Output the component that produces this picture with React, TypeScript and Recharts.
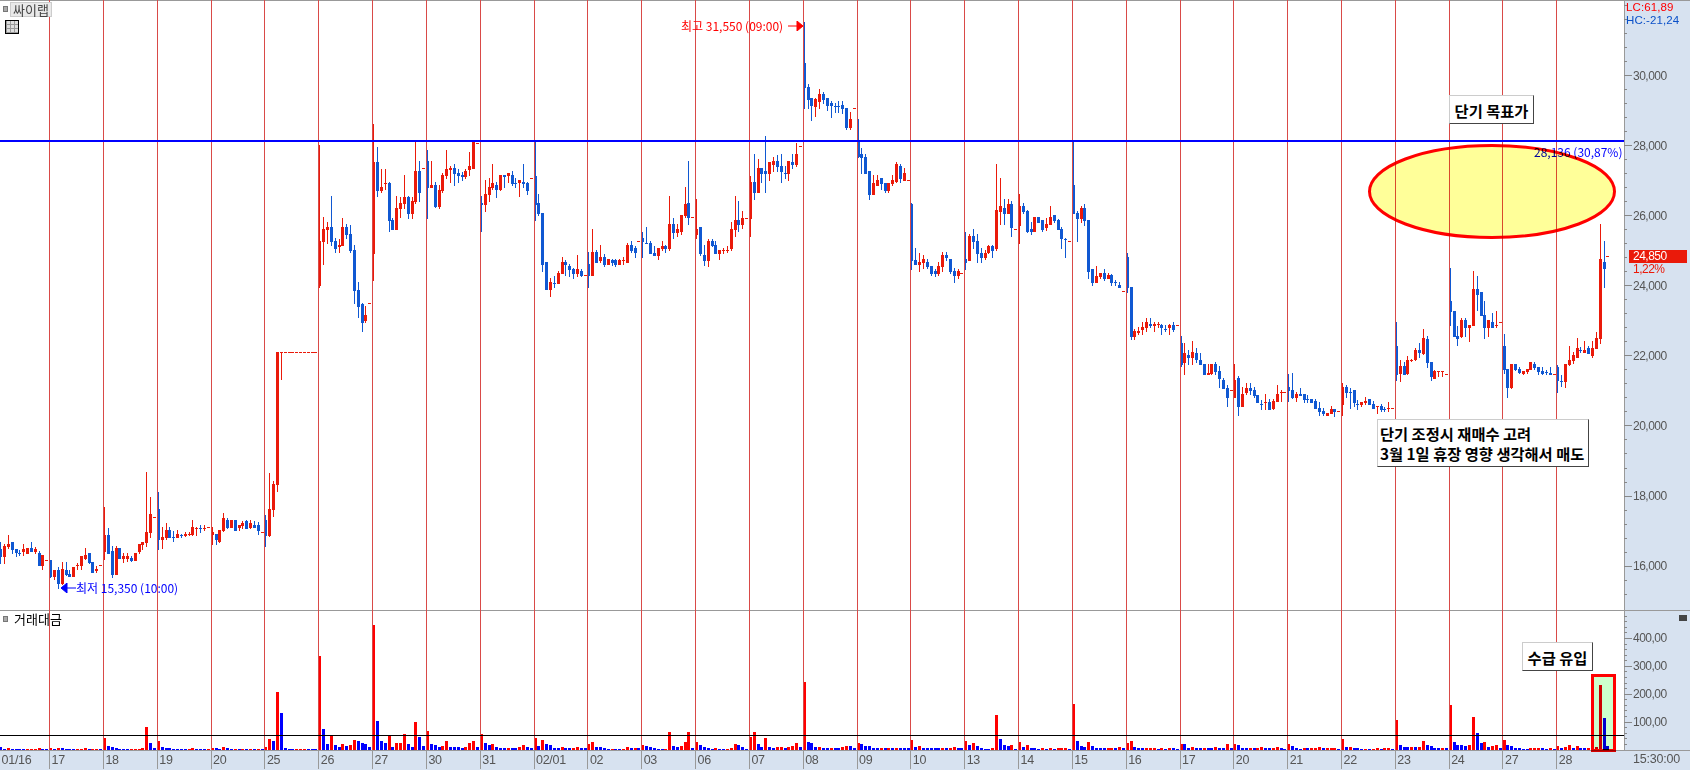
import { Bar, Cell, ComposedChart, ReferenceLine, XAxis, YAxis } from 'recharts';

// one row per trading day, 14 bars a day (first day is cut off at the left edge)
const opens = [
  16490,16270,16550,16690,16490,16360,16390,16350,16520,16410,16370,16000,16170,
  16170,15680,15890,15490,15890,15770,15700,16000,16010,16200,16370,16110,15860,16030,
  16400,16890,16430,15740,16510,16200,16200,16230,16140,16390,16600,16670,16940,17410,
  17630,16740,16800,17030,16830,16800,16880,16860,16890,16890,17080,17100,17080,17110,
  16890,16910,16690,17000,17310,17090,17310,17090,17140,17290,17090,17170,17170,16970,
  17310,16860,17600,18310,22100,22100,22100,22100,22100,22100,22100,22100,22100,22100,
  24000,25260,25600,25690,25290,25110,25140,25690,25490,25030,23890,23490,23000,23510,
  24910,27540,26710,26920,26940,25890,25600,26200,26340,26540,26060,26400,27290,27360,
  27570,26800,26890,26260,26710,27140,27310,27370,27230,27170,27110,27310,27340,28080,
  26370,26310,26600,26800,26890,26740,27170,27140,27170,26940,26940,26970,26940,27080,
  27140,26370,26090,24690,23890,24090,24060,24340,24690,24570,24490,24340,24430,24300,
  24630,24290,24970,24710,24830,24600,24740,24740,24600,24720,24660,25170,25090,25280,
  25370,25220,25230,24940,24860,25060,25140,25060,25770,25510,25540,26000,26370,25960,
  25460,25690,24880,24710,25290,25170,24910,25010,25010,25060,25600,25890,25740,25930,
  25910,26970,26660,27370,27290,27200,27460,27570,27430,27230,27200,27540,27460,28000,
  30370,29690,29370,29110,29260,29480,29370,29230,29140,29140,29170,29080,28510,29080,
  28110,27770,27690,27290,26600,26860,27090,26940,26710,26910,26970,27430,27000,27030,
  26340,24740,24600,24660,24690,24570,24430,24340,24540,24890,24770,24430,24290,24360,
  24770,24710,25430,25290,24940,24800,24940,25140,25060,26110,26230,26060,26340,25620,
  25710,26290,26140,25630,25540,25970,25890,25660,25740,26030,25890,25630,25340,25280,
  26890,26090,25910,26230,25890,24490,24090,24260,24370,24200,24310,24110,24030,23870,
  24830,23970,22540,22660,22740,22800,22910,22860,22880,22880,22770,22800,22880,22880,
  22370,21800,22030,21940,22080,21880,21770,21460,21480,21770,21570,21310,21090,21020,
  20800,21370,20540,20940,21090,21030,20890,20630,20660,20690,20490,20690,20950,20960,
  21110,21030,20800,20910,20910,20770,20770,20710,20510,20430,20290,20340,20490,20430,
  20600,21110,20970,21030,20630,20600,20660,20770,20630,20550,20570,20490,20490,20500,
  22290,21490,21710,21490,21860,21890,22170,22060,22490,21830,21340,21550,21550,21480,
  23570,23290,22570,22540,23030,22800,22860,23910,23830,23170,22800,22970,22860,22960,
  22290,21630,21090,21770,21630,21490,21540,21600,21770,21690,21570,21540,21510,21480,
  21690,21290,21260,21740,21860,21940,22170,22090,22230,22000,22200,22490,24680,24850,
];
const highs = [
  16680,16630,16890,16690,16490,16460,16630,16520,16690,16550,16430,16310,16170,
  16170,15890,15980,16110,16110,15900,15970,16080,16290,16510,16370,16110,16000,16030,
  17700,17090,16570,16570,16510,16370,16360,16290,16370,16630,16690,18690,17970,17410,
  18110,17110,17230,17110,17000,17030,16910,16970,16970,17310,17110,17170,17170,17110,
  17110,16910,17030,17510,17370,17310,17310,17170,17290,17310,17310,17290,17260,16970,
  17460,18660,18430,22100,22100,22100,22100,22100,22100,22100,22100,22100,22100,22100,
  28030,25970,25830,26570,25370,25340,25940,25770,25740,25170,24110,23510,23430,23510,
  28630,27970,27340,27340,26970,25940,26570,26540,27170,26570,26540,28110,27570,27360,
  27890,27570,26970,26890,27230,27890,27430,27480,27340,27260,27340,27830,28110,28080,
  26570,27030,27090,27480,26970,27170,27170,27230,27290,27080,27030,27480,26970,27080,
  28170,26630,26090,24690,24230,24290,24430,24830,24740,24630,24510,24890,24490,24300,
  24970,25630,25030,25170,24910,24770,24770,24770,24770,24830,25230,25290,25140,25280,
  25540,25690,25290,25140,25090,25290,25170,26570,25940,25770,26030,26830,27570,25960,
  26480,25690,25170,25340,25340,25290,25030,25090,25140,25830,26570,26430,26140,25930,
  27140,27770,27630,27370,28290,27540,27690,27740,27770,27430,27570,27770,28090,28000,
  31540,29770,29370,29370,29630,29540,29370,29290,29230,29290,29290,29080,28970,29080,
  28770,27940,27770,27290,27170,27170,27090,26940,26940,27170,27540,27490,27370,27030,
  26370,25090,24940,24890,24770,24570,24490,24690,24970,24970,24770,24510,24490,24360,
  25540,25490,25630,25490,25090,25030,25170,25170,27490,27090,26490,26490,26430,25620,
  26630,26370,26170,25830,25970,25970,25890,25940,26290,26030,25910,25690,25370,25280,
  28170,26140,26290,26340,25890,24490,24570,24370,24490,24370,24340,24170,24110,23870,
  24940,23970,22770,22830,22970,23090,23090,22970,22970,22910,22880,22910,22970,22880,
  22570,22370,22170,22430,22230,22080,21770,21770,21770,21830,21710,21370,21170,21020,
  21770,21430,21110,21230,21230,21110,20890,20740,20910,20770,20770,21170,21030,20960,
  21490,21510,20970,21090,20910,20890,20770,20770,20690,20510,20370,20570,20490,20430,
  21230,21170,21090,21030,20740,20690,20830,20770,20710,20570,20630,20540,20690,20500,
  22970,21890,21830,22000,21910,22230,22370,22770,22570,21830,21600,21570,21570,21480,
  24510,23290,22860,23090,23090,22890,24430,24290,23830,23570,23030,23230,23290,22960,
  22630,21630,21770,21770,21690,21570,21630,21830,21830,21690,21690,21600,21690,21480,
  21740,21460,21770,22290,22110,22510,22260,22430,22290,22430,22690,25770,25290,24850,
];
const lows = [
  16060,16060,16480,16340,16270,16300,16290,16340,16400,16340,16000,15890,16170,
  15650,15600,15350,15460,15700,15700,15700,15890,15900,16170,16060,15810,15800,16030,
  16200,16340,15670,15740,16200,16090,16100,16110,16140,16340,16460,16550,16800,17410,
  16460,16490,16740,16800,16690,16800,16800,16830,16860,16860,16860,16940,17010,17110,
  16600,16600,16660,16970,17060,17090,17000,17000,17060,17060,17060,17090,16890,16970,
  16540,16830,17400,18090,21310,22100,22100,22100,22100,22100,22100,22100,22100,22100,
  23950,24600,25200,25140,24940,24940,25140,25340,24940,23490,23090,22690,22940,23510,
  24140,26540,26660,26740,25540,25600,25600,25940,26200,25910,25910,26340,26400,27360,
  25910,26800,26230,26200,26660,27060,26940,26860,26940,27000,27060,27140,27340,28080,
  25540,26110,26400,26740,26510,26710,26800,26940,26860,26800,26540,26800,26600,27080,
  25860,26000,24400,23890,23690,23940,24060,24340,24290,24260,24200,24260,24260,24300,
  23940,24290,24660,24660,24540,24600,24570,24540,24600,24600,24660,24940,24800,25280,
  24800,25200,24910,24860,24740,25000,24940,25000,25340,25400,25460,25940,25740,25960,
  25340,24860,24570,24540,25110,24910,24740,24910,24940,25000,25400,25540,25630,25930,
  25400,26460,26660,26940,26660,27000,27260,27260,26940,27060,27000,27340,27400,28000,
  29060,29060,28710,28830,29060,29200,29000,28800,28940,28940,28910,28460,28460,29080,
  27660,27200,27200,26460,26600,26860,26740,26660,26660,26860,26940,26940,27000,27030,
  24460,24600,24400,24490,24490,24290,24260,24290,24400,24710,24340,24090,24200,24360,
  24460,24710,25060,24660,24660,24740,24910,24800,25000,25740,25740,26060,25400,25620,
  25200,26060,25510,25460,25540,25800,25540,25570,25740,25800,25600,25060,24800,25280,
  26060,25260,25800,25710,24200,24000,24090,24200,24140,24200,24000,24000,23940,23870,
  23800,22460,22460,22600,22600,22690,22800,22690,22800,22600,22690,22600,22690,22880,
  21690,21460,21740,21740,21800,21740,21460,21460,21460,21460,21080,21060,20540,21020,
  20800,20290,20540,20890,20890,20800,20660,20460,20460,20460,20460,20690,20690,20960,
  20690,20770,20690,20860,20660,20660,20660,20490,20290,20290,20290,20340,20260,20430,
  20290,20800,20490,20540,20460,20540,20600,20600,20490,20340,20400,20400,20400,20500,
  21290,21260,21460,21460,21830,21860,21940,22030,21660,21290,21340,21400,21400,21480,
  22860,22540,22290,22510,22540,22400,22860,23290,23140,22490,22540,22800,22800,22960,
  21490,20800,21060,21570,21490,21460,21490,21600,21600,21460,21460,21460,21460,21480,
  20940,21110,21090,21710,21770,21940,22090,22090,22060,21940,22200,22340,23940,24850,
];
const closes = [
  16270,16570,16630,16460,16360,16340,16490,16520,16400,16490,16000,16310,16170,
  15680,15890,15490,15910,15740,15700,15970,16030,16290,16310,16090,15810,15910,16030,
  16890,16340,15740,16510,16200,16290,16290,16140,16370,16630,16690,16970,17490,17410,
  16740,16830,17030,16800,16810,16910,16850,16910,16910,17110,17100,17080,17100,17110,
  16970,16740,17030,17370,17090,17310,17000,17170,17230,17060,17230,17090,17000,16970,
  16860,17630,18340,22100,22100,22100,22100,22100,22100,22100,22100,22100,22100,22100,
  25290,25630,25690,25260,25060,25170,25690,25460,25000,23860,23400,22940,23170,23510,
  27540,26710,26830,26940,25860,25600,26230,26370,26540,26060,26430,27290,26660,27360,
  26800,26890,26260,26740,27170,27340,27370,27200,27140,27110,27290,27430,28110,28080,
  26310,26630,26830,26940,26740,27170,27110,27230,26910,26920,27030,26910,26710,27080,
  26310,26060,24600,23890,24110,24070,24370,24690,24600,24460,24340,24490,24290,24300,
  24290,24970,24660,24830,24600,24770,24660,24600,24740,24740,25170,25000,24940,25280,
  25260,25200,24910,24860,25090,25140,25060,25770,25510,25630,26030,26340,25940,25960,
  25630,24910,24710,25290,25140,24910,25030,25030,25030,25630,25890,25740,25940,25930,
  26970,26660,27370,27200,27200,27540,27570,27400,27260,27210,27570,27460,27770,28000,
  29660,29310,29140,29340,29480,29310,29140,29140,29120,29120,29060,28510,28770,29080,
  27690,27660,27200,26600,26940,27030,26910,26710,26940,27030,27490,27060,27230,27030,
  24710,24600,24690,24770,24540,24340,24340,24570,24890,24800,24400,24290,24430,24360,
  24660,25430,25260,24910,24800,24940,25140,25000,26170,26290,26060,26340,25660,25620,
  26290,26110,25540,25540,25970,25800,25600,25770,25970,25860,25600,25340,25320,25280,
  26060,25910,26230,25860,24400,24090,24290,24370,24200,24310,24090,24080,23940,23870,
  23940,22540,22710,22710,22830,22970,22860,22910,22910,22800,22740,22880,22740,22880,
  21740,22080,21940,22110,21880,21740,21460,21510,21770,21540,21340,21060,20800,21020,
  21310,20540,20910,21090,21000,20860,20660,20610,20690,20460,20710,20910,20970,20960,
  21000,20800,20910,20860,20740,20740,20660,20490,20400,20340,20370,20490,20400,20430,
  21110,20940,20950,20660,20610,20690,20710,20600,20490,20570,20460,20470,20510,20500,
  21460,21710,21460,21890,21890,22170,22090,22510,21800,21400,21570,21570,21570,21480,
  23260,22540,22490,23030,22800,22890,23910,23740,23140,22800,23030,22800,22880,22960,
  21600,21090,21770,21600,21510,21570,21630,21830,21660,21540,21490,21520,21470,21480,
  21290,21270,21770,21890,22030,22230,22140,22170,22060,22230,22510,24770,24480,24850,
];
const turnover = [
  11,4,7,4,4,4,4,4,4,4,7,4,4,
  7,4,7,7,4,4,4,4,4,7,4,4,4,4,
  43,14,11,7,4,4,4,4,4,4,7,83,25,7,
  32,11,7,7,4,4,4,4,4,7,4,4,4,4,
  7,7,4,11,7,4,4,4,4,4,4,4,4,4,
  11,39,32,208,133,7,4,4,4,4,4,4,4,4,
  337,75,22,54,18,11,22,14,18,36,32,25,22,11,
  448,104,32,25,54,11,25,25,57,22,11,100,47,14,
  68,22,18,11,14,32,11,11,11,7,11,25,32,11,
  57,25,18,22,11,7,7,7,7,7,11,18,11,7,
  43,14,36,22,18,7,7,11,7,7,7,11,7,7,
  22,29,11,11,7,4,4,4,4,4,11,7,7,7,
  18,14,11,7,4,4,4,65,14,11,14,29,65,7,
  29,18,11,7,4,7,4,4,4,7,22,18,11,4,
  47,65,22,11,43,11,7,11,11,7,11,14,25,11,
  244,29,25,11,11,7,7,7,7,7,11,14,14,7,
  25,22,14,14,7,7,7,7,7,7,7,7,7,7,
  36,11,14,7,7,7,7,7,7,7,7,11,7,7,
  32,18,25,14,7,4,4,7,126,39,18,14,18,4,
  29,11,18,7,7,4,7,4,7,4,7,7,7,4,
  165,32,14,11,29,14,7,7,7,7,7,7,11,7,
  25,32,11,7,7,7,7,7,4,7,4,7,7,4,
  22,22,7,11,7,7,7,7,7,11,7,7,22,7,
  22,18,7,7,7,7,7,11,7,7,7,11,7,4,
  22,14,7,4,7,7,7,7,11,7,7,7,7,4,
  39,11,11,7,7,4,4,4,4,7,4,7,7,4,
  108,18,11,11,11,11,11,32,18,14,7,7,7,7,
  161,29,18,18,14,18,118,61,25,29,11,14,18,7,
  36,18,14,7,7,4,4,7,7,7,7,4,7,4,
  14,7,11,18,7,14,7,7,7,7,11,233,115,14,
];
// r = turnover up on the previous bar, b = down
const turnoverDirs = [
  'bbrbbbbrrrrbb','rbrbbbbrrrbrrb','rbbbbbbrrrrrbb','rbbbbbbbrrbbbr','rbbrbbrbrbrbrb',
  'rrbrbbbbrrrbbb','rbbrbbrbrrbbbb','rbbbrbrrrbbrbb','rbbbrrbbbbrrrb','rbbrbbbrbbrrbb',
  'rbrbbbbrbbrrbb','rrbbbbrbbrrbrb','rbbbbbrrbbrrrb','rbbbbrbbrrrbbb','rrbbrbbrrbrrrb',
  'rbbbrbbrbbrrbb','rbbbbbrbrbrbbb','rbrbbbbbrbrrbb','rbrbbbbrrbbbrb','rbrbbbrbrbrrrb',
  'rbbbrbbbbrrbrb','rrbbbrrrbrbrbb','rbbrbbrbbrbbrb','rbbbrbrrbbrrbb','rbbbrbrrrbrrrb',
  'rbrbbbrbrrbrrb','rbbbrbrrbbbbrb','rbbbbrrbbrbrrb','rbbbbbbrrrbbrb','rbrrbrbbrrrrbb',
].join('');

const dayLabels = ['01/16','17','18','19','20','25','26','27','30','31','02/01','02','03','06','07','08','09','10','13','14','15','16','17','20','21','22','23','24','27','28'];
const dayStarts = [0,13,27,41,55,69,83,97,111,125,139,153,167,181,195,209,223,237,251,265,279,293,307,321,335,349,363,377,391,405];

const priceTicks = [15200,15600,16000,16400,16800,17200,17600,18000,18400,18800,19200,19600,20000,20400,20800,21200,21600,22000,22400,22800,23200,23600,24000,24400,24800,25200,25600,26000,26400,26800,27200,27600,28000,28400,28800,29200,29600,30000,30400,30800,31200,31600,32000];
const priceLabels = [16000,18000,20000,22000,24000,26000,28000,30000];
const turnoverTicks = [20,40,60,80,100,120,140,160,180,200,220,240,260,280,300,320,340,360,380,400,420,440,460,480];
const turnoverLabels = [100,200,300,400];
const targetPrice = 28136;
const turnoverAverage = 53;

const rows = closes.map((close, i) => ({
  i,
  range: [lows[i], highs[i]],
  open: opens[i],
  high: highs[i],
  low: lows[i],
  close,
  turnover: turnover[i],
  rising: turnoverDirs[i] === 'r',
}));

const X_DOMAIN: [number, number] = [-0.16, 422.21];
const RED = '#ea1a0a';
const BLUE = '#1058d2';
const GRID = '#d94a48';
const AXIS_BG = '#d7e2f0';
const AXIS_LINE = '#999';
const LABEL = '#555';
const FONT = '"Liberation Sans", sans-serif';
const KR = '"Noto Sans CJK KR", sans-serif';

function Candle(props: any) {
  const { x, y, width, height, payload } = props;
  const { open, close, high, low } = payload;
  const up = close >= open;
  const color = up ? RED : BLUE;
  const unit = high > low ? height / (high - low) : 0;
  const cx = Math.round(x + width / 2);
  const top = y + (high - Math.max(open, close)) * unit;
  const bottom = y + (high - Math.min(open, close)) * unit;
  const bodyY = Math.round(top);
  const bodyH = Math.max(1, Math.round(bottom) - bodyY);
  return (
    <g shapeRendering="crispEdges">
      {height > 1 && <rect x={cx} y={Math.round(y)} width={1} height={Math.max(1, Math.round(height))} fill={color} />}
      <rect x={cx - 1} y={bodyY} width={3} height={bodyH} fill={color} />
    </g>
  );
}

function TurnoverBar(props: any) {
  const { x, y, width, height, payload } = props;
  return (
    <rect
      x={Math.round(x + width / 2) - 1}
      y={Math.round(y)}
      width={3}
      height={Math.max(1, Math.round(height))}
      fill={payload.rising ? '#ff0000' : '#0000ff'}
      shapeRendering="crispEdges"
    />
  );
}

function PriceTick(props: any) {
  const { x, y, payload } = props;
  const major = priceLabels.includes(payload.value);
  return (
    <g shapeRendering="crispEdges">
      <line x1={x} x2={x + (major ? 8 : 3)} y1={y} y2={y} stroke="#888" />
      {major && (
        <text x={x + 9} y={y + 4} fontSize={12} fontFamily={FONT} fill={LABEL} letterSpacing={-0.5}>
          {payload.value.toLocaleString('en-US')}
        </text>
      )}
    </g>
  );
}

function TurnoverTick(props: any) {
  const { x, y, payload } = props;
  const major = turnoverLabels.includes(payload.value);
  return (
    <g shapeRendering="crispEdges">
      <line x1={x} x2={x + (major ? 8 : 3)} y1={y} y2={y} stroke="#888" />
      {major && (
        <text x={x + 9} y={y + 4} fontSize={12} fontFamily={FONT} fill={LABEL} letterSpacing={-0.5}>
          {payload.value},00
        </text>
      )}
    </g>
  );
}

function DayTick(props: any) {
  const { x, y, payload } = props;
  const idx = dayStarts.indexOf(payload.value);
  return (
    <g>
      {idx > 0 && <line x1={x - 1} x2={x - 1} y1={y} y2={y + 19} stroke="#999" shapeRendering="crispEdges" />}
      <text x={x + 1} y={y + 14} fontSize={12.5} fontFamily={FONT} fill={LABEL} letterSpacing={-0.3}>
        {dayLabels[idx]}
      </text>
    </g>
  );
}

function Note({ left, top, width, height, lines, align = 'center' }: { left: number; top: number; width: number; height: number; lines: string[]; align?: string }) {
  return (
    <div
      style={{
        position: 'absolute', left, top, width, height, boxSizing: 'border-box', background: '#fff',
        borderTop: '1px solid #ccc', borderLeft: '1px solid #ccc',
        borderRight: '1px solid #444', borderBottom: '1px solid #444',
        display: 'flex', flexDirection: 'column', justifyContent: 'center', alignItems: align, paddingLeft: align === 'center' ? 0 : 2,
        fontFamily: KR, fontWeight: 700, fontSize: 15.3, lineHeight: '20px', color: '#000', whiteSpace: 'nowrap',
      }}
    >
      {lines.map(l => <span key={l}>{l}</span>)}
    </div>
  );
}

function Caption({ left, top, color, size = 12, children }: any) {
  return (
    <div style={{ position: 'absolute', left, top, color, fontSize: size, lineHeight: '12px', fontFamily: KR, whiteSpace: 'nowrap' }}>
      {children}
    </div>
  );
}

export default function App() {
  return (
    <div style={{ position: 'absolute', left: 0, top: 0, width: 1690, height: 770, overflow: 'hidden', background: '#fff' }}>
      {/* axis panels sit under the transparent charts */}
      <div style={{ position: 'absolute', left: 1624, top: 0, width: 66, height: 770, background: AXIS_BG, borderLeft: `1px solid ${AXIS_LINE}`, boxSizing: 'border-box' }} />
      <div style={{ position: 'absolute', left: 0, top: 750, width: 1690, height: 19, background: AXIS_BG, borderTop: `1px solid ${AXIS_LINE}`, borderBottom: `1px solid ${AXIS_LINE}`, boxSizing: 'content-box' }} />
      <div style={{ position: 'absolute', left: 0, top: 0, width: 1690, height: 1, background: AXIS_LINE }} />
      <div style={{ position: 'absolute', left: 0, top: 610, width: 1690, height: 1, background: AXIS_LINE }} />

      <div style={{ position: 'absolute', left: 0, top: 0 }}>
        <ComposedChart width={1690} height={610} data={rows} margin={{ top: 0, right: 0, bottom: 0, left: 0 }} barCategoryGap={0}>
          <XAxis dataKey="i" type="number" domain={X_DOMAIN} allowDataOverflow hide />
          <YAxis
            orientation="right"
            width={66}
            type="number"
            domain={[14743, 32171]}
            allowDataOverflow
            ticks={priceTicks}
            interval={0}
            axisLine={false}
            tickLine={false}
            tickSize={0}
            tickMargin={0}
            tick={<PriceTick />}
          />
          {dayStarts.slice(1).map(d => (
            <ReferenceLine key={d} x={d - 0.26} stroke={GRID} strokeWidth={1} shapeRendering="crispEdges" />
          ))}
          <Bar dataKey="range" barSize={3} shape={<Candle />} isAnimationActive={false} />
          <ReferenceLine y={targetPrice} stroke="#0000ff" strokeWidth={2} shapeRendering="crispEdges" />
        </ComposedChart>
      </div>

      <div style={{ position: 'absolute', left: 0, top: 610 }}>
        <ComposedChart width={1690} height={160} data={rows} margin={{ top: 0, right: 0, bottom: 0, left: 0 }} barCategoryGap={0}>
          <XAxis
            dataKey="i"
            type="number"
            domain={X_DOMAIN}
            allowDataOverflow
            ticks={dayStarts}
            interval={0}
            height={20}
            axisLine={false}
            tickLine={false}
            tickSize={0}
            tickMargin={0}
            tick={<DayTick />}
          />
          <YAxis
            orientation="right"
            width={66}
            type="number"
            domain={[0, 502]}
            allowDataOverflow
            ticks={turnoverTicks}
            interval={0}
            axisLine={false}
            tickLine={false}
            tickSize={0}
            tickMargin={0}
            tick={<TurnoverTick />}
          />
          {dayStarts.slice(1).map(d => (
            <ReferenceLine key={d} x={d - 0.26} stroke={GRID} strokeWidth={1} shapeRendering="crispEdges" />
          ))}
          <Bar dataKey="turnover" barSize={3} shape={<TurnoverBar />} isAnimationActive={false}>
            {rows.map(r => <Cell key={r.i} fill={r.rising ? '#ff0000' : '#0000ff'} />)}
          </Bar>
          <ReferenceLine y={turnoverAverage} stroke="#000" strokeWidth={1} shapeRendering="crispEdges" />
        </ComposedChart>
      </div>

      {/* hand-drawn markups from the original screenshot */}
      <Caption left={1534} top={146} color="#0000ff">28,136 (30,87%)</Caption>
      <svg width={1690} height={770} style={{ position: 'absolute', left: 0, top: 0, mixBlendMode: 'multiply', pointerEvents: 'none' }}>
        <ellipse cx={1492} cy={191.5} rx={122.5} ry={46} fill="#ffff99" stroke="#ff0000" strokeWidth={3} />
        <rect x={1592.5} y={675.5} width={22} height={74.5} fill="#ccffcc" stroke="#ff0000" strokeWidth={3} shapeRendering="crispEdges" />
      </svg>
      <Note left={1449} top={95} width={85} height={29} lines={['단기 목표가']} />
      <Note left={1522} top={642} width={71} height={29} lines={['수급 유입']} />
      <Note left={1377} top={419} width={212} height={48} align="flex-start" lines={['단기 조정시 재매수 고려', '3월 1일 휴장 영향 생각해서 매도']} />

      {/* high / low markers */}
      <Caption left={681} top={20} color="#ff0000">최고 31,550 (09:00)</Caption>
      <svg width={16} height={10} style={{ position: 'absolute', left: 788, top: 21 }}>
        <path d="M0 5H10M9 0L15 5L9 10Z" stroke="#ff0000" fill="#ff0000" />
      </svg>
      <Caption left={76} top={582} color="#0000ff">최저 15,350 (10:00)</Caption>
      <svg width={16} height={10} style={{ position: 'absolute', left: 61, top: 583 }}>
        <path d="M15 5H5M6 0L0 5L6 10Z" stroke="#0000ff" fill="#0000ff" />
      </svg>

      {/* pane chrome */}
      <div style={{ position: 'absolute', left: 3, top: 6, width: 3, height: 4, background: '#aaa', border: '1px solid #777' }} />
      <div style={{ position: 'absolute', left: 10, top: 2, width: 42, height: 15, boxSizing: 'border-box', background: '#e9e9e9', border: '1px solid #ccc', color: '#444', fontFamily: KR, fontSize: 13, lineHeight: '13px', textAlign: 'center' }}>싸이랩</div>
      <div style={{ position: 'absolute', left: 5, top: 20, width: 14, height: 14, boxSizing: 'border-box', border: '1px solid #000', background: 'repeating-linear-gradient(90deg,#999 0 1px,transparent 1px 4px),repeating-linear-gradient(0deg,#999 0 1px,#ddd 1px 4px)' }} />
      <div style={{ position: 'absolute', left: 3, top: 616, width: 3, height: 4, background: '#aaa', border: '1px solid #777' }} />
      <Caption left={14} top={613} color="#000" size={13}>거래대금</Caption>
      <div style={{ position: 'absolute', left: 1679, top: 615, width: 8, height: 6, background: '#444' }} />

      {/* right axis captions */}
      <div style={{ position: 'absolute', left: 1626, top: 1, color: '#ff0000', fontFamily: FONT, fontSize: 11.5, lineHeight: '13px', letterSpacing: 0.1 }}>LC:61,89</div>
      <div style={{ position: 'absolute', left: 1626, top: 14, color: '#0a50c8', fontFamily: FONT, fontSize: 11.5, lineHeight: '13px', letterSpacing: 0.1 }}>HC:-21,24</div>
      <div style={{ position: 'absolute', left: 1629, top: 250, width: 58, height: 13, background: RED, color: '#fff', fontFamily: FONT, fontSize: 12, lineHeight: '13px', paddingLeft: 4, boxSizing: 'border-box', letterSpacing: -0.5 }}>24,850</div>
      <div style={{ position: 'absolute', left: 1633, top: 263, color: RED, fontFamily: FONT, fontSize: 12, lineHeight: '12px', letterSpacing: -0.5 }}>1,22%</div>
      <div style={{ position: 'absolute', left: 1633, top: 752, color: LABEL, fontFamily: FONT, fontSize: 12.5, lineHeight: '15px', letterSpacing: -0.2 }}>15:30:00</div>
    </div>
  );
}
